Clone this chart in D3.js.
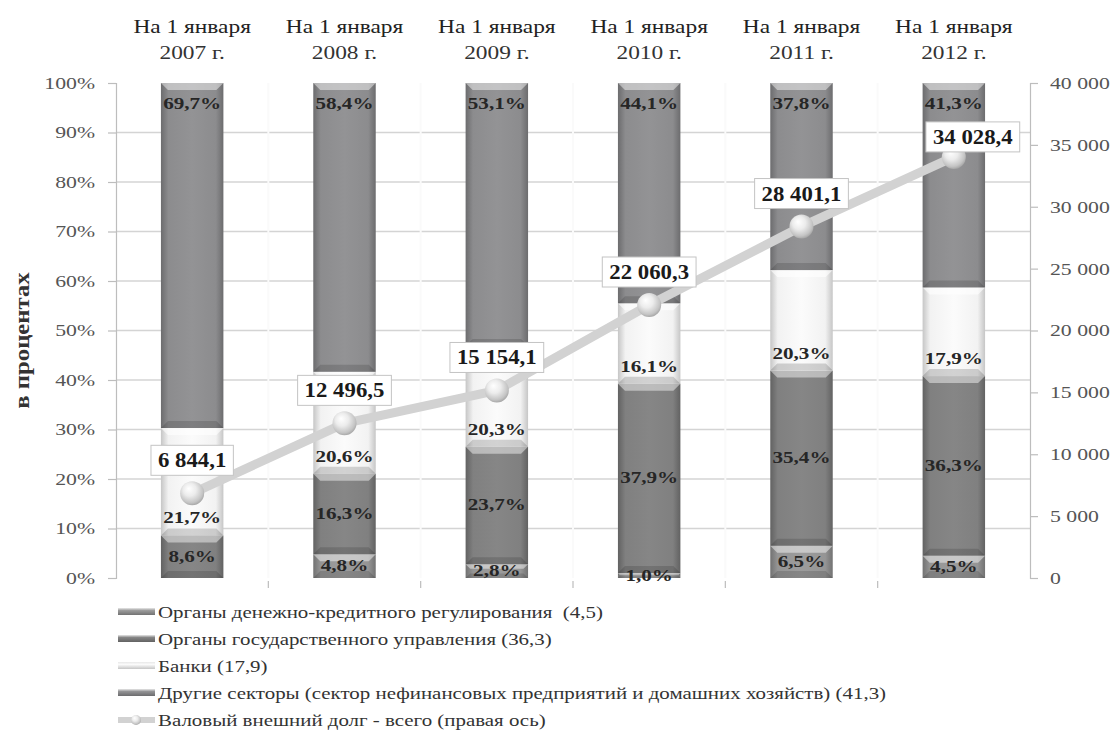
<!DOCTYPE html>
<html>
<head>
<meta charset="utf-8">
<script src="https://cdn.jsdelivr.net/npm/d3@7"></script>
<style>
  body { margin: 0; background: #fff; }
  svg { display: block; }
</style>
</head>
<body>
<svg id="chart" width="1115" height="738"></svg>
<script>
// ---- data ----
const categories = ["2007", "2008", "2009", "2010", "2011", "2012"];
const headerTop = "На 1 января";
const headerBottom = ["2007 г.", "2008 г.", "2009 г.", "2010 г.", "2011 г.", "2012 г."];

const seriesKeys = ["dkr", "gov", "banks", "other"];
const seriesNames = [
  "Органы денежно-кредитного регулирования\u00a0 (4,5)",
  "Органы государственного управления (36,3)",
  "Банки (17,9)",
  "Другие секторы (сектор нефинансовых предприятий и домашних хозяйств) (41,3)"
];
const dkr   = [0,    4.8,  2.8,  1.0,  6.5,  4.5];
const gov   = [8.6,  16.3, 23.7, 37.9, 35.4, 36.3];
const banks = [21.7, 20.6, 20.3, 16.1, 20.3, 17.9];
const other = [69.7, 58.4, 53.1, 44.1, 37.8, 41.3];

const totalDebt = [6844.1, 12496.5, 15154.1, 22060.3, 28401.1, 34028.4];
const lineName = "Валовый внешний долг - всего (правая ось)";

const leftTicks  = [0, 0.1, 0.2, 0.3, 0.4, 0.5, 0.6, 0.7, 0.8, 0.9, 1];
const gridTicks  = [0.1, 0.2, 0.3, 0.4, 0.5, 0.6, 0.7, 0.8, 0.9];
const rightTicks = [0, 5000, 10000, 15000, 20000, 25000, 30000, 35000, 40000];
const yTitle = "в процентах";

// ---- layout ----
const svg = d3.select("#chart");
const plot = { left: 116, right: 1030, top: 83, bottom: 578 };
const FONT = "Liberation Serif, Times New Roman, serif";

const ruLocale = d3.formatLocale({ decimal: ",", thousands: "\u00a0", grouping: [3], currency: ["", ""] });
const fmtThousands = ruLocale.format(",.0f");
const fmtDebt = ruLocale.format(",.1f");
const fmtPct = v => d3.format(".1f")(v).replace(".", ",") + "%";

const x = d3.scaleBand().domain(categories).range([plot.left, plot.right]).padding(0);
const barW = x.bandwidth() * 0.41;
const y = d3.scaleLinear().domain([0, 1]).range([plot.bottom, plot.top]);
const yR = d3.scaleLinear().domain([0, 40000]).range([plot.bottom, plot.top]);

const rows = categories.map((c, i) => ({ cat: c, dkr: dkr[i], gov: gov[i], banks: banks[i], other: other[i] }));
const stacked = d3.stack().keys(seriesKeys).offset(d3.stackOffsetExpand)(rows);

// text helper: horizontally widened serif text
function addText(parent, px, py, str, opt) {
  const o = Object.assign({ size: 16, weight: "normal", anchor: "middle", fill: "#333", sx: 1 }, opt || {});
  return parent.append("text")
    .attr("transform", `translate(${px},${py}) scale(${o.sx},1)`)
    .attr("text-anchor", o.anchor)
    .attr("font-family", FONT)
    .attr("font-size", o.size)
    .attr("font-weight", o.weight)
    .attr("fill", o.fill)
    .text(str);
}

// ---- gradients ----
const defs = svg.append("defs");
const palette = {
  dkr:   ["#727272", "#959595", "#9c9c9c"],
  gov:   ["#626262", "#808080", "#868686"],
  banks: ["#c6c6c6", "#f2f2f2", "#fbfbfb"],
  other: ["#6c6c6e", "#8c8c8e", "#939395"]
};
seriesKeys.forEach(k => {
  const [edge, mid, centre] = palette[k];
  const g = defs.append("linearGradient").attr("id", "g-" + k).attr("x1", 0).attr("x2", 1).attr("y1", 0).attr("y2", 0);
  [[0, edge], [0.12, mid], [0.5, centre], [0.88, mid], [1, edge]].forEach(([o, c]) =>
    g.append("stop").attr("offset", o).attr("stop-color", c));
  const gv = defs.append("linearGradient").attr("id", "gv-" + k).attr("x1", 0).attr("x2", 0).attr("y1", 0).attr("y2", 1);
  [[0, "#e8e8e8"], [0.35, centre], [1, edge]].forEach(([o, c]) =>
    gv.append("stop").attr("offset", o).attr("stop-color", c));
});
const sphere = defs.append("radialGradient").attr("id", "sphere").attr("cx", 0.45).attr("cy", 0.4).attr("r", 0.6).attr("fx", 0.35).attr("fy", 0.3);
[[0, "#ffffff"], [0.45, "#ececec"], [0.85, "#c4c4c4"], [1, "#a8a8a8"]].forEach(([o, c]) =>
  sphere.append("stop").attr("offset", o).attr("stop-color", c));

// ---- gridlines ----
svg.append("g").selectAll("line").data(gridTicks).join("line")
  .attr("x1", plot.left).attr("x2", plot.right)
  .attr("y1", d => y(d)).attr("y2", d => y(d))
  .attr("stroke", "#d4d4d4").attr("stroke-width", 1.5);

// faint breaks at category boundaries
svg.append("g").selectAll("line").data(categories.slice(1)).join("line")
  .attr("x1", d => x(d)).attr("x2", d => x(d))
  .attr("y1", plot.top).attr("y2", plot.bottom)
  .attr("stroke", "#fafafa").attr("stroke-width", 2);

// ---- stacked bars ----
const barsG = svg.append("g");
stacked.forEach(layer => {
  const k = layer.key;
  const idx = seriesKeys.indexOf(k);
  const g = barsG.append("g");
  layer.forEach((d, i) => {
    const raw = [dkr, gov, banks, other][idx][i];
    if (!raw) return;
    const x0 = x(d.data.cat) + (x.bandwidth() - barW) / 2;
    const yTop = y(d[1]), yBot = y(d[0]);
    const h = yBot - yTop;
    g.append("rect").attr("x", x0).attr("y", yTop).attr("width", barW).attr("height", h)
      .attr("fill", `url(#g-${k})`);
    const b = Math.min(7, h / 3);
    // upper bevel
    g.append("path")
      .attr("d", `M${x0},${yTop}L${x0 + barW},${yTop}L${x0 + barW - b},${yTop + b}L${x0 + b},${yTop + b}Z`)
      .attr("fill", "#ffffff").attr("fill-opacity", k === "banks" ? 0.6 : 0.45);
    // lower bevel
    g.append("path")
      .attr("d", `M${x0},${yBot}L${x0 + barW},${yBot}L${x0 + barW - b},${yBot - b}L${x0 + b},${yBot - b}Z`)
      .attr("fill", "#000000").attr("fill-opacity", k === "banks" ? 0.16 : 0.14);
  });
});

// ---- segment value labels ----
const lblG = svg.append("g");
stacked.forEach(layer => {
  const k = layer.key;
  const idx = seriesKeys.indexOf(k);
  layer.forEach((d, i) => {
    const raw = [dkr, gov, banks, other][idx][i];
    if (!raw) return;
    const cx = x(d.data.cat) + x.bandwidth() / 2;
    let ly;
    if (k === "other") ly = y(d[1]) + 26;          // inside end
    else if (k === "banks") ly = y(d[0]) - 12;     // inside base
    else ly = (y(d[0]) + y(d[1])) / 2 + 5;          // centred
    addText(lblG, cx, ly, fmtPct(raw), { size: 16, weight: "bold", fill: "#262626", sx: 1.32 });
  });
});

// ---- total debt line (right axis) ----
const pts = totalDebt.map((v, i) => [x(categories[i]) + x.bandwidth() / 2, yR(v)]);
svg.append("path")
  .attr("d", d3.line()(pts))
  .attr("fill", "none").attr("stroke", "#d2d2d2").attr("stroke-width", 9);
svg.append("g").selectAll("circle").data(pts).join("circle")
  .attr("cx", d => d[0]).attr("cy", d => d[1]).attr("r", 12)
  .attr("fill", "url(#sphere)");

// value boxes above the markers
const boxG = svg.append("g");
totalDebt.forEach((v, i) => {
  const [px, py] = pts[i];
  const shift = i === totalDebt.length - 1 ? [19, -20] : [0, -33];
  const cx = px + shift[0], cy = py + shift[1];
  const sx = 1.14;
  const g = boxG.append("g");
  const rect = g.append("rect");
  const t = addText(g, cx, cy + 7, fmtDebt(v), { size: 20, weight: "bold", fill: "#1a1a1a", sx: sx });
  const w = t.node().getComputedTextLength() * sx + 14;
  rect.attr("x", cx - w / 2).attr("y", cy - 15).attr("width", w).attr("height", 30)
    .attr("fill", "#fff").attr("stroke", "#c4c4c4").attr("stroke-width", 1);
});

// ---- axes ----
const axL = svg.append("g").attr("transform", `translate(${plot.left},0)`)
  .call(d3.axisLeft(y).tickValues(leftTicks).tickFormat(d => Math.round(d * 100) + "%").tickSize(8).tickPadding(13));
const axR = svg.append("g").attr("transform", `translate(${plot.right},0)`)
  .call(d3.axisRight(yR).tickValues(rightTicks).tickFormat(d => fmtThousands(d)).tickSize(8).tickPadding(12));
[axL, axR].forEach(ax => {
  ax.select(".domain").attr("stroke", "#bdbdbd").attr("stroke-width", 1.2);
  ax.selectAll(".tick line").attr("stroke", "#bdbdbd").attr("stroke-width", 1.2);
  const sx = 1.28;
  ax.selectAll(".tick text")
    .attr("font-family", FONT).attr("font-size", 17).attr("fill", "#555")
    .attr("x", function () { return +d3.select(this).attr("x") / sx; })
    .attr("transform", `scale(${sx},1)`);
});

// bottom tick marks at category boundaries
svg.append("g").selectAll("line").data(categories.slice(1)).join("line")
  .attr("x1", d => x(d)).attr("x2", d => x(d))
  .attr("y1", plot.bottom + 3).attr("y2", plot.bottom + 10)
  .attr("stroke", "#bdbdbd").attr("stroke-width", 1.2);

// category headers
const hdr = svg.append("g");
categories.forEach((c, i) => {
  const cx = x(c) + x.bandwidth() / 2;
  addText(hdr, cx, 33, headerTop, { size: 18, fill: "#222", sx: 1.3 });
  addText(hdr, cx, 59, headerBottom[i], { size: 18, fill: "#333", sx: 1.3 });
});

// y title
svg.append("text")
  .attr("transform", `translate(29,${(plot.top + plot.bottom) / 2 + 10}) rotate(-90) scale(1.3,1.05)`)
  .attr("text-anchor", "middle")
  .attr("font-family", FONT).attr("font-size", 19).attr("font-weight", "bold").attr("fill", "#333")
  .text(yTitle);

// ---- legend ----
const leg = svg.append("g");
const legRows = [612, 639, 666, 693, 720];
seriesKeys.forEach((k, i) => {
  const ry = legRows[i];
  leg.append("rect").attr("x", 118).attr("y", ry - 4).attr("width", 37).attr("height", 7)
    .attr("fill", `url(#gv-${k})`);
  addText(leg, 158, ry + 6, seriesNames[i], { size: 17, anchor: "start", fill: "#333", sx: 1.23 });
});
{
  const ry = legRows[4];
  leg.append("line").attr("x1", 118).attr("x2", 155).attr("y1", ry).attr("y2", ry)
    .attr("stroke", "#d2d2d2").attr("stroke-width", 6);
  leg.append("circle").attr("cx", 136).attr("cy", ry).attr("r", 5).attr("fill", "url(#sphere)");
  addText(leg, 158, ry + 6, lineName, { size: 17, anchor: "start", fill: "#333", sx: 1.23 });
}
</script>
</body>
</html>
